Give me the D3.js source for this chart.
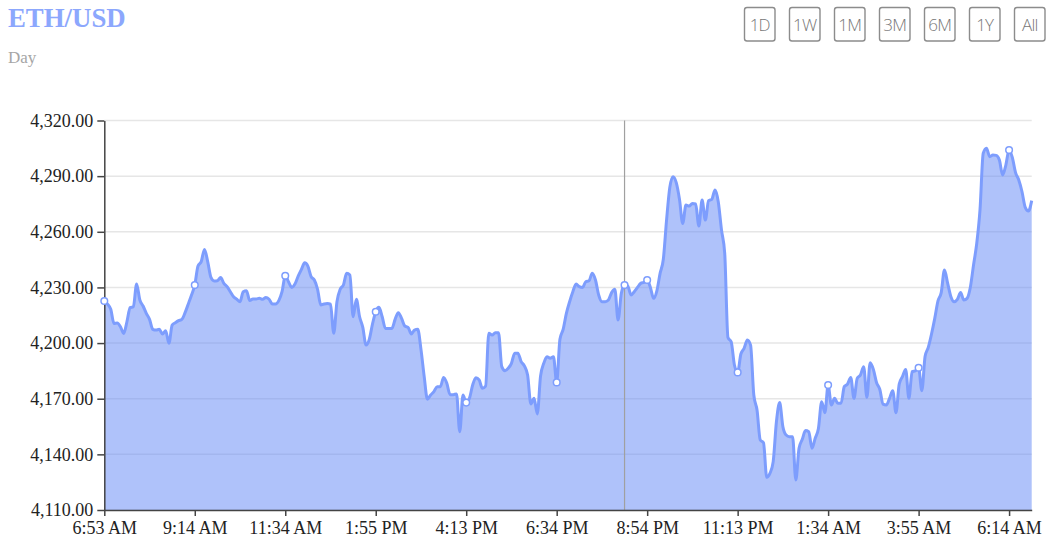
<!DOCTYPE html>
<html>
<head>
<meta charset="utf-8">
<script src="https://cdn.jsdelivr.net/npm/d3@7/dist/d3.min.js"></script>
<style>
  html, body { margin: 0; padding: 0; background: #fff; }
  svg { display: block; }
</style>
</head>
<body>
<svg id="chart" width="1054" height="555"></svg>
<script>
// ---- data (ETH/USD, 5-minute closes over one day) ----
const prices = [
  4222.7,4221.0,4218.2,4210.6,4210.8,4208.8,4205.2,4211.5,4219.1,4219.6,
  4231.8,4223.2,4220.0,4216.0,4212.8,4207.4,4207.0,4207.4,4204.9,4206.7,
  4199.9,4209.7,4211.0,4212.1,4212.8,4216.4,4221.1,4225.9,4231.3,4241.5,
  4243.9,4250.5,4243.9,4235.4,4233.5,4233.6,4235.3,4232.2,4230.4,4227.7,
  4225.0,4223.6,4222.3,4227.7,4228.2,4222.9,4223.8,4223.8,4224.1,4223.6,
  4224.6,4223.6,4221.1,4221.1,4222.9,4227.7,4236.3,4233.1,4230.0,4231.8,
  4236.1,4239.7,4243.3,4241.5,4235.8,4234.0,4229.0,4220.5,4221.1,4221.4,
  4221.0,4205.3,4222.3,4229.0,4231.3,4237.6,4236.7,4214.2,4223.6,4214.2,
  4208.5,4198.9,4202.0,4210.3,4216.9,4219.3,4214.2,4207.9,4207.9,4207.9,
  4212.8,4216.4,4213.3,4209.2,4208.5,4204.9,4207.0,4207.4,4196.6,4181.9,
  4169.7,4172.0,4173.8,4176.5,4176.5,4181.5,4178.3,4172.2,4172.2,4172.6,
  4152.2,4172.0,4167.9,4170.2,4177.4,4181.3,4180.1,4175.6,4176.8,4205.3,
  4204.3,4205.6,4205.6,4187.3,4185.1,4186.4,4189.1,4194.5,4194.5,4190.0,
  4187.7,4182.8,4167.2,4170.2,4161.8,4182.2,4189.1,4192.6,4191.8,4192.6,
  4178.8,4202.0,4207.4,4216.0,4222.3,4227.7,4231.8,4230.4,4230.0,4233.1,
  4233.6,4237.6,4234.0,4225.9,4222.3,4222.3,4223.2,4227.2,4229.0,4212.4,
  4226.8,4231.3,4230.8,4225.9,4227.7,4230.0,4232.2,4232.7,4234.0,4230.0,
  4224.1,4228.2,4237.6,4245.2,4266.3,4283.9,4289.7,4286.5,4277.5,4264.5,
  4274.4,4273.9,4275.3,4275.0,4263.1,4277.1,4266.3,4276.8,4277.5,4282.5,
  4276.2,4261.0,4248.4,4203.0,4200.7,4188.2,4184.2,4194.1,4197.2,4201.6,
  4198.9,4172.0,4163.9,4147.7,4146.3,4127.6,4129.8,4136.1,4157.6,4167.9,
  4154.9,4150.4,4149.5,4149.5,4126.2,4143.3,4148.1,4152.8,4152.2,4143.3,
  4148.7,4154.0,4168.4,4162.5,4177.4,4166.6,4170.2,4167.5,4167.5,4176.5,
  4177.9,4181.5,4170.2,4181.0,4182.8,4187.3,4170.7,4189.4,4185.8,4178.6,
  4175.0,4167.1,4166.6,4170.2,4174.3,4162.5,4177.9,4181.9,4185.8,4170.2,
  4184.6,4185.1,4186.7,4174.3,4192.7,4197.7,4204.9,4213.3,4222.7,4227.2,
  4239.4,4232.2,4225.0,4222.3,4223.6,4227.2,4223.2,4224.1,4230.0,4242.1,
  4253.8,4271.8,4302.3,4305.0,4300.5,4301.4,4301.2,4298.7,4290.6,4296.0,
  4304.1,4300.1,4291.9,4287.9,4281.6,4273.2,4271.2,4276.8
];
const tickLabels = ["6:53 AM","9:14 AM","11:34 AM","1:55 PM","4:13 PM","6:34 PM",
                    "8:54 PM","11:13 PM","1:34 AM","3:55 AM","6:14 AM"];
const tickEvery = 28;           // points between labelled ticks
const yTicks = [4110, 4140, 4170, 4200, 4230, 4260, 4290, 4320];
const hoverIndex = 161;
const buttons = ["1D","1W","1M","3M","6M","1Y","All"];
const title = "ETH/USD";
const subtitle = "Day";

// ---- layout ----
const W = 1054, H = 555;
const m = { left: 104.3, right: 22.3, top: 120.5, bottom: 45 };
const svg = d3.select("#chart");

const x = d3.scaleLinear().domain([0, prices.length - 1]).range([m.left, W - m.right]);
const y = d3.scaleLinear().domain([4110, 4320]).range([H - m.bottom, m.top]);

const serif = "'Liberation Serif', 'Times New Roman', serif";

// title
svg.append("text").attr("x", 8).attr("y", 27.3)
  .attr("font-family", serif).attr("font-weight", "bold").attr("font-size", 26.8)
  .attr("fill", "#8ca7fd").text(title);
svg.append("text").attr("x", 8).attr("y", 63)
  .attr("font-family", serif).attr("font-size", 17)
  .attr("fill", "#a6a6a6").text(subtitle);

// buttons
const bg = svg.append("g");
buttons.forEach((b, i) => {
  const bx = 744.5 + i * 45;
  bg.append("rect").attr("x", bx).attr("y", 7.5).attr("width", 30.5).attr("height", 33.5)
    .attr("rx", 2.5).attr("fill", "#fff").attr("stroke", "#8c8c8c").attr("stroke-width", 1.4);
  bg.append("text").attr("x", bx + 15.25).attr("y", 31)
    .attr("text-anchor", "middle").attr("font-family", "'Open Sans', 'Noto Sans', sans-serif")
    .attr("font-weight", 300).attr("font-size", 17).attr("letter-spacing", -0.8)
    .attr("fill", "#777").text(b);
});

// grid
svg.append("g").selectAll("line").data(yTicks).join("line")
  .attr("x1", m.left).attr("x2", W - m.right)
  .attr("y1", d => y(d)).attr("y2", d => y(d))
  .attr("stroke", "#e6e6e6").attr("stroke-width", 1.5);

// area + line
const area = d3.area().x((d, i) => x(i)).y0(y(4110)).y1(d => y(d)).curve(d3.curveMonotoneX);
const line = d3.line().x((d, i) => x(i)).y(d => y(d)).curve(d3.curveMonotoneX);

svg.append("path").datum(prices).attr("d", area)
  .attr("fill", "#5f86f5").attr("fill-opacity", 0.5);
svg.append("path").datum(prices).attr("d", line)
  .attr("fill", "none").attr("stroke", "#7d9dfd").attr("stroke-width", 3)
  .attr("stroke-linejoin", "round");

// hover line
svg.append("line").attr("x1", x(hoverIndex)).attr("x2", x(hoverIndex))
  .attr("y1", y(4320)).attr("y2", y(4110))
  .attr("stroke", "#a0a0a0").attr("stroke-width", 1.2);

// axes
const tickIdx = tickLabels.map((_, i) => i * tickEvery);
const xAxis = d3.axisBottom(x).tickValues(tickIdx)
  .tickFormat((d, i) => tickLabels[i]).tickSize(6).tickPadding(5).tickSizeOuter(0);
const yAxis = d3.axisLeft(y).tickValues(yTicks)
  .tickFormat(d3.format(",.2f")).tickSize(7).tickPadding(4).tickSizeOuter(0);

const gx = svg.append("g").attr("transform", `translate(0,${y(4110)})`).call(xAxis);
const gy = svg.append("g").attr("transform", `translate(${m.left},0)`).call(yAxis);
[gx, gy].forEach(g => {
  g.attr("font-family", serif).attr("font-size", 18);
  g.selectAll("path, line").attr("stroke", "#444").attr("stroke-width", 1.5);
  g.selectAll("text").attr("fill", "#222");
});

// markers at ticks and hover
const markers = tickIdx.concat([hoverIndex]);
svg.append("g").selectAll("circle").data(markers).join("circle")
  .attr("cx", d => x(d)).attr("cy", d => y(prices[d])).attr("r", 3.3)
  .attr("fill", "#fff").attr("stroke", "#7d9dfd").attr("stroke-width", 1.5);
</script>
</body>
</html>
